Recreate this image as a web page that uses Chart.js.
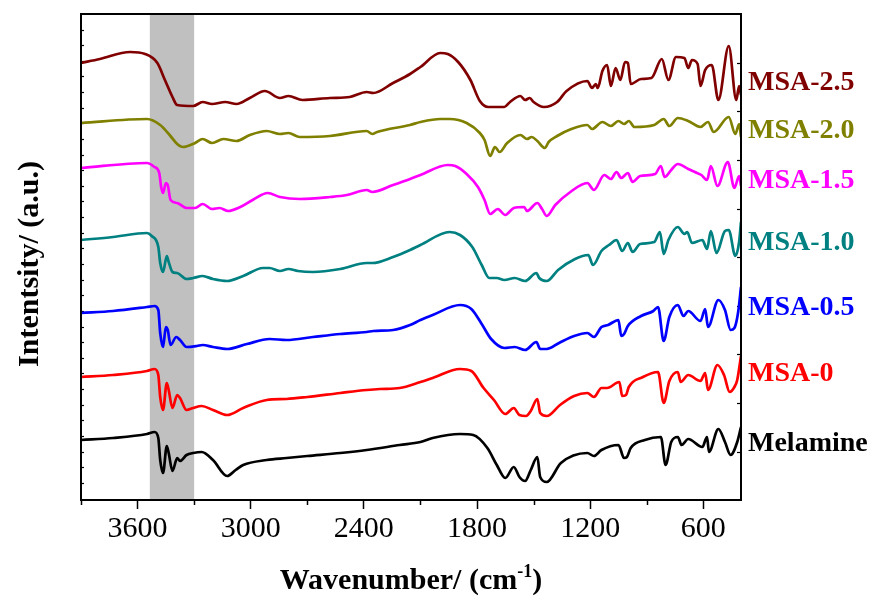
<!DOCTYPE html>
<html>
<head>
<meta charset="utf-8">
<title>FTIR spectra</title>
<script src="https://cdn.jsdelivr.net/npm/chart.js@4.4.1/dist/chart.umd.min.js"></script>
<style>
  html, body { margin: 0; padding: 0; background: #fff; }
  canvas { display: block; }
</style>
</head>
<body>
<canvas id="ftirChart" width="871" height="601"></canvas>
<script>
// wavenumber (cm-1), intensity (a.u., curves stacked with offsets)
var msa25 = [[3900,437],[3800,441],[3640,448],[3560,446],[3495,437],[3455,420],[3415,403],[3390,395],[3305,394],[3255,398],[3205,396],[3135,398],[3075,396],[3005,402],[2925,409],[2845,402],[2800,404],[2725,400],[2580,402],[2475,403],[2385,408],[2350,407],[2245,417],[2155,426],[2100,433],[1995,447],[1955,446],[1900,438],[1835,420],[1785,399],[1740,393],[1655,393],[1625,398],[1570,404],[1545,400],[1520,402],[1500,398],[1445,393],[1375,398],[1325,409],[1215,419],[1190,412],[1170,416],[1160,412],[1135,429],[1110,435],[1090,414],[1065,432],[1040,420],[1015,438],[1000,437],[985,416],[930,421],[875,422],[820,441],[785,420],[745,443],[700,442],[680,432],[660,440],[630,436],[615,414],[590,430],[555,435],[520,400],[465,454],[425,400],[410,414],[400,405]];
var msa20 = [[3900,377],[3550,381],[3480,375],[3430,365],[3390,356],[3360,353],[3295,357],[3255,361],[3205,357],[3145,361],[3075,359],[3005,365],[2915,369],[2845,366],[2800,367],[2740,363],[2580,364],[2385,369],[2355,366],[2330,368],[2155,375],[2100,378],[1995,381],[1945,381],[1855,377],[1785,367],[1760,360],[1730,344],[1705,353],[1680,348],[1640,357],[1570,365],[1535,361],[1510,363],[1480,359],[1440,352],[1420,358],[1375,364],[1300,371],[1215,375],[1190,371],[1135,378],[1090,374],[1050,379],[1020,376],[995,379],[965,373],[860,375],[810,381],[780,374],[735,382],[680,379],[615,373],[575,378],[545,368],[465,383],[430,366],[410,376],[400,363]];
var msa15 = [[3900,332],[3550,337],[3510,333],[3485,327],[3475,313],[3465,307],[3450,317],[3440,315],[3425,300],[3390,297],[3340,292],[3295,292],[3255,296],[3205,291],[3165,292],[3120,289],[3055,293],[2990,300],[2910,307],[2845,303],[2740,301],[2580,303],[2490,305],[2385,310],[2355,308],[2245,315],[2155,321],[2100,325],[1955,335],[1915,334],[1855,326],[1795,313],[1760,300],[1730,286],[1690,291],[1650,285],[1605,292],[1550,293],[1535,289],[1480,297],[1455,291],[1430,284],[1385,295],[1305,308],[1215,317],[1180,310],[1125,325],[1090,321],[1060,328],[1035,322],[1000,327],[975,318],[935,324],[855,326],[825,334],[805,323],[770,330],[735,336],[680,331],[645,328],[610,325],[580,320],[560,334],[525,314],[470,338],[435,312],[410,324],[400,314]];
var msa10 = [[3900,260],[3730,263],[3550,267],[3525,264],[3490,253],[3480,237],[3465,228],[3445,244],[3435,238],[3415,228],[3390,227],[3340,221],[3305,222],[3255,224],[3200,221],[3125,219],[3040,224],[2935,232],[2900,232],[2845,229],[2800,231],[2750,229],[2670,228],[2525,231],[2385,237],[2355,237],[2245,243],[2155,250],[2100,255],[1945,268],[1890,265],[1825,253],[1775,235],[1735,222],[1695,222],[1655,220],[1600,222],[1545,219],[1485,227],[1470,222],[1430,219],[1370,230],[1280,241],[1210,245],[1185,235],[1140,249],[1100,255],[1060,260],[1030,249],[1000,257],[975,248],[935,256],[860,258],[830,268],[810,246],[785,260],[735,273],[700,266],[685,268],[660,257],[605,260],[580,251],[560,269],[530,247],[485,269],[465,270],[430,244],[410,258],[400,278]];
var msa05 = [[3900,187],[3730,189],[3550,193],[3510,194],[3490,190],[3480,167],[3465,153],[3450,173],[3440,170],[3425,155],[3395,163],[3375,160],[3340,153],[3285,154],[3255,155],[3200,153],[3125,151],[3020,156],[2900,161],[2810,160],[2670,163],[2525,166],[2385,168],[2350,169],[2245,170],[2155,175],[2100,180],[2035,185],[1890,195],[1830,191],[1775,176],[1725,161],[1655,152],[1600,153],[1545,150],[1485,158],[1465,151],[1430,151],[1365,157],[1285,164],[1215,167],[1180,163],[1140,173],[1105,175],[1050,180],[1035,164],[1020,166],[1000,174],[930,184],[865,189],[840,193],[810,159],[780,183],[735,195],[705,184],[680,189],[615,179],[590,191],[575,173],[520,200],[485,190],[455,170],[435,172],[415,188],[400,213]];
var msa0 = [[3900,123],[3730,125],[3550,129],[3510,131],[3490,125],[3480,103],[3465,90],[3445,117],[3435,110],[3415,92],[3390,105],[3375,102],[3340,90],[3305,92],[3260,94],[3200,90],[3125,85],[3040,92],[2915,100],[2810,101],[2700,103],[2525,107],[2385,110],[2315,111],[2210,112],[2100,118],[2035,122],[1890,131],[1830,129],[1765,112],[1710,100],[1650,86],[1605,92],[1575,85],[1540,84],[1515,89],[1480,101],[1465,87],[1430,84],[1360,95],[1285,104],[1215,107],[1180,103],[1140,112],[1110,112],[1045,118],[1030,104],[1010,105],[995,113],[920,123],[840,128],[810,97],[780,119],[735,128],[720,118],[680,125],[615,119],[590,127],[575,110],[525,135],[490,125],[460,108],[435,113],[420,120],[400,144]];
var melamine = [[3900,60],[3730,62],[3550,66],[3510,68],[3490,62],[3480,40],[3465,27],[3445,54],[3435,47],[3415,29],[3390,42],[3375,39],[3340,45],[3305,47],[3260,48],[3200,40],[3125,24],[3080,30],[3040,35],[2915,40],[2810,42],[2700,44],[2525,47],[2385,50],[2210,55],[2100,58],[2035,62],[1890,66],[1820,65],[1745,52],[1695,35],[1650,22],[1605,33],[1575,23],[1545,19],[1515,30],[1480,43],[1465,23],[1430,18],[1355,37],[1215,47],[1180,44],[1140,50],[1050,55],[1020,42],[1005,43],[985,52],[910,60],[825,63],[800,35],[770,58],[735,63],[715,55],[680,61],[605,53],[580,63],[570,48],[520,71],[485,58],[455,45],[420,58],[400,73]];

var seriesNames = ['MSA-2.5', 'MSA-2.0', 'MSA-1.5', 'MSA-1.0', 'MSA-0.5', 'MSA-0', 'Melamine'];
var seriesData = [msa25, msa20, msa15, msa10, msa05, msa0, melamine];
var seriesColors = ['#800000', '#808000', '#ff00ff', '#008080', '#0000ff', '#ff0000', '#000000'];
var labelLevels = [418, 370, 320, 258, 193, 127, 57]; // where each name sits on the intensity axis

var xTicks = [3600, 3000, 2400, 1800, 1200, 600];
var xMinorTicks = [3900, 3300, 2700, 2100, 1500, 900];
var xMin = 400, xMax = 3900;
var yMin = 0, yMax = 486;
var bandFrom = 3535, bandTo = 3300; // shaded N-H stretching region

var serif = "'Liberation Serif', 'Times New Roman', serif";

function tickList(start, step, count) {
    var out = [];
    for (var i = 0; i < count; i++) out.push({ value: start + step * i });
    return out;
}

var decor = {
    id: 'decor',
    beforeDatasetsDraw: function(chart) {
        var ctx = chart.ctx, area = chart.chartArea, x = chart.scales.x;
        var a = x.getPixelForValue(bandFrom), b = x.getPixelForValue(bandTo);
        ctx.save();
        ctx.fillStyle = '#c0c0c0';
        ctx.fillRect(Math.min(a, b), area.top, Math.abs(b - a), area.bottom - area.top);
        ctx.restore();
    },
    afterDraw: function(chart) {
        var ctx = chart.ctx, area = chart.chartArea;
        var x = chart.scales.x, y = chart.scales.y;
        ctx.save();
        // frame
        ctx.strokeStyle = '#000';
        ctx.lineWidth = 2;
        ctx.strokeRect(area.left, area.top, area.right - area.left, area.bottom - area.top);

        // short minor ticks under the x axis
        ctx.lineWidth = 1.5;
        xMinorTicks.forEach(function(v) {
            var px = Math.round(x.getPixelForValue(v)) + 0.5;
            ctx.beginPath();
            ctx.moveTo(px, area.bottom);
            ctx.lineTo(px, area.bottom + 5);
            ctx.stroke();
        });

        // axis titles
        ctx.fillStyle = '#000';
        ctx.font = 'bold 30px ' + serif;
        ctx.textBaseline = 'alphabetic';
        var t1 = 'Wavenumber/ (cm', t2 = '-1', t3 = ')';
        var w1 = ctx.measureText(t1).width, w3 = ctx.measureText(t3).width;
        ctx.font = 'bold 18px ' + serif;
        var w2 = ctx.measureText(t2).width;
        var sx = (area.left + area.right) / 2 - (w1 + w2 + w3) / 2;
        var by = 589;
        ctx.font = 'bold 30px ' + serif;
        ctx.textAlign = 'left';
        ctx.fillText(t1, sx, by);
        ctx.font = 'bold 18px ' + serif;
        ctx.fillText(t2, sx + w1, by - 12);
        ctx.font = 'bold 30px ' + serif;
        ctx.fillText(t3, sx + w1 + w2, by);

        ctx.save();
        ctx.translate(38, (area.top + area.bottom) / 2 + 7);
        ctx.rotate(-Math.PI / 2);
        ctx.textAlign = 'center';
        ctx.fillText('Intentsity/ (a.u.)', 0, 0);
        ctx.restore();

        // sample names next to the curves
        ctx.font = 'bold 28px ' + serif;
        ctx.textAlign = 'left';
        ctx.textBaseline = 'middle';
        chart.data.datasets.forEach(function(ds, i) {
            ctx.fillStyle = ds.borderColor;
            ctx.fillText(ds.label, area.right + 7, y.getPixelForValue(labelLevels[i]) + 1);
        });
        ctx.restore();
    }
};

var datasets = seriesNames.map(function(name, i) {
    return {
        label: name,
        data: seriesData[i].map(function(p) { return { x: p[0], y: p[1] }; }),
        borderColor: seriesColors[i],
        borderWidth: 2.7,
        pointRadius: 0,
        fill: false,
        cubicInterpolationMode: 'monotone'
    };
});

var ctx = document.getElementById('ftirChart').getContext('2d');
var ftirChart = new Chart(ctx, {
    type: 'line',
    data: { datasets: datasets },
    options: {
        responsive: false,
        animation: false,
        devicePixelRatio: 1,
        layout: { padding: { top: 14, right: 130, left: 0, bottom: 0 } },
        plugins: { legend: { display: false }, tooltip: { enabled: false } },
        scales: {
            x: {
                type: 'linear',
                reverse: true,
                min: xMin,
                max: xMax,
                border: { display: false },
                grid: { drawOnChartArea: false, tickLength: 9, tickWidth: 1.5, tickColor: '#000' },
                ticks: {
                    color: '#000',
                    font: { family: serif, size: 30 },
                    padding: 2,
                    maxRotation: 0,
                    autoSkip: false,
                    callback: function(v) { return String(v); }
                },
                afterBuildTicks: function(scale) {
                    scale.ticks = xTicks.map(function(v) { return { value: v }; });
                },
                afterFit: function(scale) { scale.height = 101; }
            },
            y: {
                type: 'linear',
                position: 'left',
                min: yMin,
                max: yMax,
                border: { display: false },
                grid: { drawOnChartArea: false, tickLength: -3, tickWidth: 1.2, tickColor: '#000' },
                ticks: { display: false },
                afterBuildTicks: function(scale) { scale.ticks = tickList(16.7, 15.63, 30); },
                afterFit: function(scale) { scale.width = 81; }
            },
            y2: {
                type: 'linear',
                position: 'right',
                min: yMin,
                max: yMax,
                border: { display: false },
                grid: { drawOnChartArea: false, tickLength: -4, tickWidth: 1.2, tickColor: '#000' },
                ticks: { display: false },
                afterBuildTicks: function(scale) { scale.ticks = tickList(48, 48.6, 9); },
                afterFit: function(scale) { scale.width = 0; }
            }
        }
    },
    plugins: [decor]
});
</script>
</body>
</html>
